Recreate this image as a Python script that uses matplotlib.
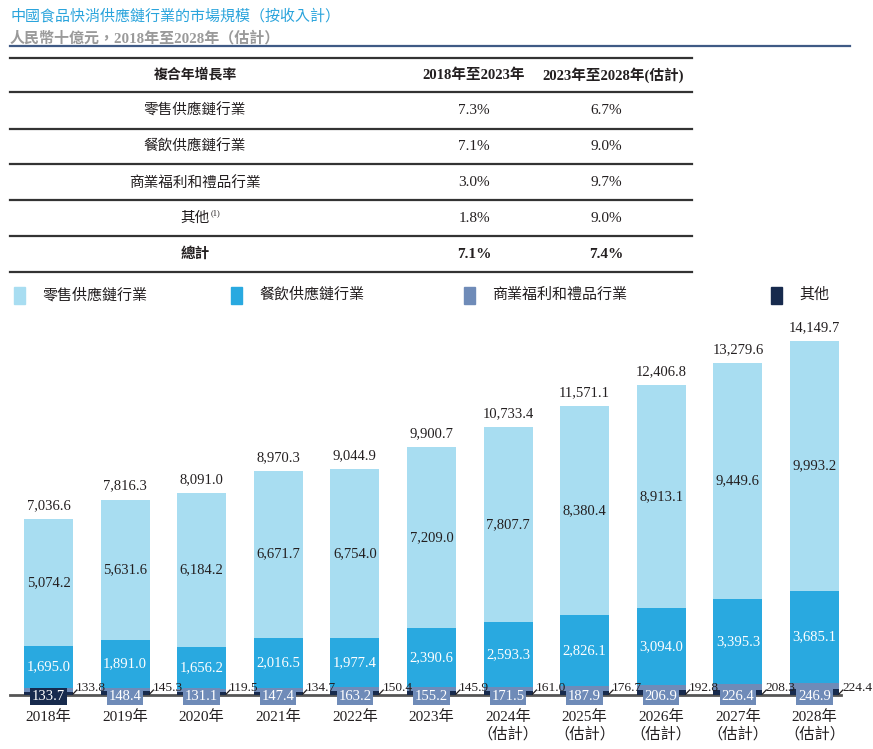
#!/usr/bin/env python3
"""China food FMCG supply chain market size, stacked bars with CAGR table."""

import matplotlib.pyplot as plt
from matplotlib.lines import Line2D
from matplotlib.patches import Rectangle

W, H = 873, 749

years = ["2018年", "2019年", "2020年", "2021年", "2022年", "2023年",
         "2024年", "2025年", "2026年", "2027年", "2028年"]
estimated = [False] * 6 + [True] * 5
retail = [5074.2, 5631.6, 6184.2, 6671.7, 6754.0, 7209.0, 7807.7, 8380.4, 8913.1, 9449.6, 9993.2]
catering = [1695.0, 1891.0, 1656.2, 2016.5, 1977.4, 2390.6, 2593.3, 2826.1, 3094.0, 3395.3, 3685.1]
welfare = [133.7, 148.4, 131.1, 147.4, 163.2, 155.2, 171.5, 187.9, 206.9, 226.4, 246.9]
others = [133.8, 145.3, 119.5, 134.7, 150.4, 145.9, 161.0, 176.7, 192.8, 208.3, 224.4]
totals = [7036.6, 7816.3, 8091.0, 8970.3, 9044.9, 9900.7, 10733.4, 11571.1, 12406.8, 13279.6, 14149.7]

series_names = ["零售供應鏈行業", "餐飲供應鏈行業", "商業福利和禮品行業", "其他"]
cagr_header = ["複合年增長率", "2018年至2023年", "2023年至2028年(估計)"]
cagr_rows = ["零售供應鏈行業", "餐飲供應鏈行業", "商業福利和禮品行業", "其他", "總計"]
cagr_hist = ["7.3%", "7.1%", "3.0%", "1.8%", "7.1%"]
cagr_fcst = ["6.7%", "9.0%", "9.7%", "9.0%", "7.4%"]

C_RETAIL = "#a8ddf1"
C_CATER = "#29a9e0"
C_WELF = "#6f8bb8"
C_OTHER = "#172a4d"
C_TITLE = "#2aa4dc"
TXT = "#231f20"

SERIF = ["Liberation Serif", "Noto Sans CJK TC"]
SANS = ["Noto Sans CJK TC", "DejaVu Sans"]


def fx(p):
    return p / W


def fy(p):
    return 1 - p / H


def hline(fig, x0, x1, y, color, lw):
    fig.add_artist(Line2D([fx(x0), fx(x1)], [fy(y), fy(y)], color=color, lw=lw,
                          transform=fig.transFigure))


fig = plt.figure(figsize=(W / 100, H / 100), dpi=100)

# header
fig.text(fx(10), fy(16), "中國食品快消供應鏈行業的市場規模（按收入計）", family=SANS,
         fontsize=10.8, color=C_TITLE, va="center")
fig.text(fx(10), fy(38), "人民幣十億元，2018年至2028年（估計）", family=SERIF,
         fontsize=10.8, color="#9a9a9a", fontweight="bold", va="center")
hline(fig, 10, 850, 46, "#3f5a85", 1.6)

# CAGR table
row_y = [75, 111, 147, 183, 218, 254]
line_y = [58, 92, 129, 164, 200, 236, 272]
for y in line_y:
    hline(fig, 10, 692, y, "#333333", 1.6)
fig.text(fx(195), fy(row_y[0]), cagr_header[0], family=SANS, fontsize=10, fontweight="bold",
         ha="center", va="center", color=TXT)
fig.text(fx(474), fy(row_y[0]), cagr_header[1], family=SERIF, fontsize=10.5, fontweight="bold",
         ha="center", va="center", color=TXT)
fig.text(fx(613), fy(row_y[0]), cagr_header[2], family=SERIF, fontsize=10.5, fontweight="bold",
         ha="center", va="center", color=TXT)
for i, name in enumerate(cagr_rows):
    y = row_y[i + 1]
    bold = "bold" if name == "總計" else "normal"
    fig.text(fx(195), fy(y), name, family=SERIF, fontsize=10.5, fontweight=bold,
             ha="center", va="center", color=TXT)
    if name == "其他":
        fig.text(fx(211), fy(y - 5), "(1)", family=SERIF, fontsize=6, ha="left",
                 va="center", color=TXT)
    fig.text(fx(474), fy(y), cagr_hist[i], family=SERIF, fontsize=11, fontweight=bold,
             ha="center", va="center", color=TXT)
    fig.text(fx(606), fy(y), cagr_fcst[i], family=SERIF, fontsize=11, fontweight=bold,
             ha="center", va="center", color=TXT)

# legend
legend_x = [14, 231, 464, 771]
for x, name, col in zip(legend_x, series_names, [C_RETAIL, C_CATER, C_WELF, C_OTHER]):
    fig.add_artist(Rectangle((fx(x), fy(304)), 11 / W, 17 / H, color=col,
                             transform=fig.transFigure))
    fig.text(fx(x + 28), fy(295), name, family=SERIF, fontsize=10.8, va="center", color=TXT)

# bars
base_px, top_px = 695, 310
scale = 0.025  # px per unit
ax = fig.add_axes([fx(10), fy(base_px), (850 - 10) / W, (base_px - top_px) / H])
pitch = 76.6
ax.set_xlim((10 - 48.5) / pitch, (850 - 48.5) / pitch)
ax.set_ylim(0, (base_px - top_px) / scale)
ax.axis("off")

x = list(range(len(years)))
bw = 0.64
ax.bar(x, others, bw, color=C_OTHER, zorder=2)
low = [o for o in others]
ax.bar(x, welfare, bw, bottom=low, color=C_WELF, zorder=2)
low = [a + b for a, b in zip(low, welfare)]
ax.bar(x, catering, bw, bottom=low, color=C_CATER, zorder=2)
cat_mid = [a + b / 2 for a, b in zip(low, catering)]
low = [a + b for a, b in zip(low, catering)]
ax.bar(x, retail, bw, bottom=low, color=C_RETAIL, zorder=2)
ret_mid = [a + b / 2 for a, b in zip(low, retail)]
ax.plot([-0.5, 10.35], [0, 0], color="#555555", lw=2, zorder=1, clip_on=False)

for i in x:
    ax.annotate(f"{totals[i]:,.1f}", (i, totals[i]), xytext=(0, 5), textcoords="offset points",
                ha="center", va="bottom", family=SERIF, fontsize=10.5, color=TXT)
    ax.text(i, ret_mid[i], f"{retail[i]:,.1f}", ha="center", va="center", family=SERIF,
            fontsize=10.5, color=TXT, zorder=3)
    ax.text(i, cat_mid[i], f"{catering[i]:,.1f}", ha="center", va="center", family=SERIF,
            fontsize=10.5, color="white", zorder=3)
    box = C_OTHER if i == 0 else C_WELF
    ax.text(i, -60, f"{welfare[i]:,.1f}", ha="center", va="center", family=SERIF,
            fontsize=10.5, color="white", zorder=4,
            bbox=dict(boxstyle="square,pad=0.12", fc=box, ec="none"))
    edge = i + bw / 2
    ax.plot([edge, edge + 0.05], [40, 200], color=TXT, lw=0.9, zorder=4, clip_on=False)
    ax.text(edge + 0.04, 280, f"{others[i]:,.1f}", ha="left", va="center", family=SERIF,
            fontsize=9.6, color=TXT, zorder=4)
    label = years[i] + ("\n（估計）" if estimated[i] else "")
    ax.text(i, -600, label, ha="center", va="top", family=SERIF, fontsize=11, color=TXT,
            linespacing=1.2)

fig.savefig("out.png", dpi=100)
